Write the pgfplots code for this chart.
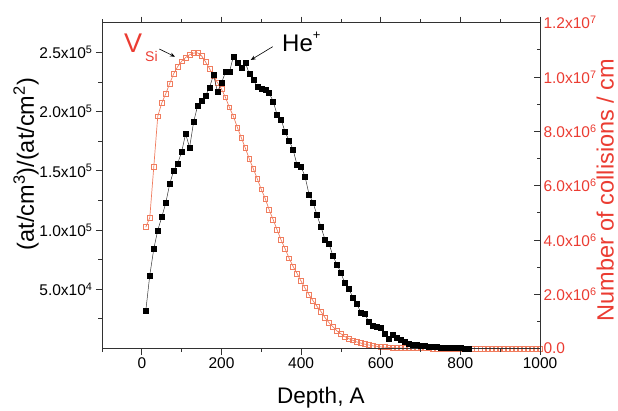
\documentclass[border=0pt]{standalone}
\usepackage{pgfplots}
\pgfplotsset{compat=1.18}
\usepackage{fontspec}
\setmainfont{Liberation Sans}
\usetikzlibrary{calc,arrows.meta}
\definecolor{vred}{RGB}{235,60,50}
\definecolor{vorange}{RGB}{240,125,95}
\definecolor{axgray}{RGB}{50,50,50}

\pgfplotstableread{
x y
10 31900
20 61800
30 84000
40 99800
50 110800
60 122700
70 138700
80 150200
90 156000
100 166000
110 181200
120 169600
130 191000
140 204800
150 208800
160 213300
170 220300
180 231000
190 216900
200 224000
210 233300
220 233300
230 246500
240 241400
250 236600
260 241400
270 231800
280 226800
290 220600
300 219200
310 218300
320 215500
330 208500
340 197000
350 193000
360 182600
370 175500
380 167700
390 154700
400 153600
410 145000
420 130000
430 123200
440 112500
450 102600
460 91900
470 88800
480 77900
490 71100
500 63800
510 55100
520 50800
530 42700
540 37800
550 30200
560 29100
570 22600
580 19300
590 18400
600 17100
610 12800
620 8000
630 11400
640 9100
650 7800
660 5700
670 4400
680 3500
690 3000
700 2500
710 2000
720 1600
730 1300
740 1100
750 900
760 700
770 500
780 400
790 300
800 250
810 200
820 150
}\heplus

\pgfplotstableread{
x y
10 4470000
20 4820000
30 6680000
40 8550000
50 9040000
60 9380000
70 9760000
80 10120000
90 10380000
100 10580000
110 10720000
120 10820000
130 10880000
140 10890000
150 10780000
160 10560000
170 10310000
180 10040000
190 9790000
200 9560000
210 9250000
220 8880000
230 8550000
240 8140000
250 7760000
260 7380000
270 6980000
280 6620000
290 6250000
300 5860000
310 5520000
320 5100000
330 4740000
340 4360000
350 3990000
360 3670000
370 3320000
380 3020000
390 2760000
400 2480000
410 2220000
420 1980000
430 1760000
440 1550000
450 1360000
460 1140000
470 950000
480 800000
490 650000
500 540000
510 440000
520 360000
530 300000
540 240000
550 200000
560 160000
570 130000
580 100000
590 80000
600 60000
610 50000
620 40000
630 30000
640 22000
650 16000
660 12000
670 8000
680 6000
690 4000
700 3000
710 2000
720 2000
730 1500
740 1000
750 1000
760 800
770 600
780 500
790 400
800 300
810 200
820 200
830 100
840 100
850 100
860 0
870 0
880 0
890 0
900 0
910 0
920 0
930 0
940 0
950 0
960 0
970 0
980 0
990 0
1000 0
}\vsi

\begin{document}
\begin{tikzpicture}
\pgfplotsset{
  base/.style={scale only axis, width=438pt, height=325.8pt,
    xmin=-100, xmax=1000,
    tick label style={font=\fontsize{15.5}{17}\selectfont},
    /pgf/number format/assume math mode=true,
    /pgf/number format/1000 sep={},
    axis line style={axgray, line width=0.8pt},
    every tick/.style={axgray, line width=0.8pt},
    major tick length=6pt, minor tick length=3.5pt,
    scaled y ticks=false, scaled x ticks=false,
    clip=false}
}
% right axis: V_Si
\begin{axis}[base,
  axis x line=none, axis y line*=right,
  ymin=0, ymax=12000000,
  ytick={0,2000000,4000000,6000000,8000000,10000000,12000000},
  yticklabels={0.0, 2.0x10\textsuperscript{6}, 4.0x10\textsuperscript{6}, 6.0x10\textsuperscript{6}, 8.0x10\textsuperscript{6}, 1.0x10\textsuperscript{7}, 1.2x10\textsuperscript{7}},
  minor ytick={1000000,3000000,5000000,7000000,9000000,11000000},
  tick align=inside,
  yticklabel style={text=vred},
  ylabel={Number of collisions / cm},
  ylabel style={font=\fontsize{23.5}{25}\selectfont, text=vred, inner sep=0pt, at={(axis description cs:1.149,0.486)}, anchor=center},
]
\addplot[vorange, line width=0.7pt, mark=square, mark size=2.4pt, mark options={line width=0.7pt, fill=white}] table[x=x,y=y] {\vsi};
\end{axis}
% left axis: He+
\begin{axis}[base, name=ax,
  ymin=0, ymax=275000,
  xtick={0,200,400,600,800,1000},
  xticklabels={0,200,400,600,800,1000},
  minor xtick={-100,100,300,500,700,900},
  ytick={50000,100000,150000,200000,250000},
  yticklabels={5.0x10\textsuperscript{4}, 1.0x10\textsuperscript{5}, 1.5x10\textsuperscript{5}, 2.0x10\textsuperscript{5}, 2.5x10\textsuperscript{5}},
  minor ytick={25000,75000,125000,175000,225000},
  ytick pos=left,
  tick align=outside,
  xlabel={Depth, A},
  xlabel style={font=\fontsize{22.5}{25}\selectfont, at={(axis description cs:0.5,-0.152)}, anchor=center},
  ylabel={(at/cm\textsuperscript{3})/(at/cm\textsuperscript{2})},
  ylabel style={font=\fontsize{23.5}{26}\selectfont, at={(axis description cs:-0.1735,0.566)}, anchor=center},
]
\addplot[black!80, line width=0.5pt, mark=square*, mark size=2.5pt, mark options={fill=black, draw=black}] table[x=x,y=y] {\heplus};
\end{axis}
% annotations
\node[anchor=base west, inner sep=0pt, text=vred, font=\fontsize{27}{28}\selectfont] at ($(ax.south west)+(22pt,295.5pt)$) {V\hspace{3pt}\raisebox{-9pt}{\fontsize{14}{14}\selectfont Si}};
\draw[line width=0.6pt, -{Stealth[length=5pt,width=4pt]}] ($(ax.south west)+(57.3pt,299.5pt)$) -- ($(ax.south west)+(73pt,291.8pt)$);
\node[anchor=base west, inner sep=0pt, font=\fontsize{24}{26}\selectfont] at ($(ax.south west)+(180pt,296.8pt)$) {He\raisebox{12pt}{\fontsize{13}{13}\selectfont +}};
\draw[line width=0.6pt, -{Stealth[length=5pt,width=4pt]}] ($(ax.south west)+(170.7pt,301.8pt)$) -- ($(ax.south west)+(148.7pt,288.5pt)$);
\pgfresetboundingbox
\path ($(ax.south west)+(-102pt,-61.5pt)$) rectangle ($(ax.south west)+(516pt,348.5pt)$);
\end{tikzpicture}
\end{document}
